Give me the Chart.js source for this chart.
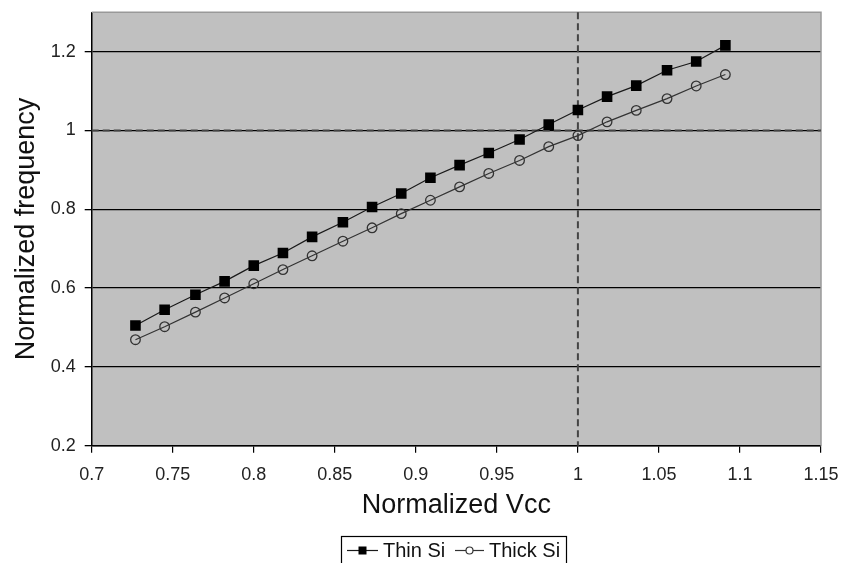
<!DOCTYPE html>
<html>
<head>
<meta charset="utf-8">
<script src="https://cdn.jsdelivr.net/npm/chart.js@4.4.0/dist/chart.umd.min.js"></script>
<style>
  html, body { margin: 0; padding: 0; background: #fff; }
  #wrap { width: 843px; height: 563px; }
</style>
</head>
<body>
<div id="wrap"><canvas id="chart" width="843" height="563"></canvas></div>
<script>
// Data
const vcc = [0.727, 0.745, 0.764, 0.782, 0.800, 0.818, 0.836, 0.855, 0.873, 0.891, 0.909,
             0.927, 0.945, 0.964, 0.982, 1.000, 1.018, 1.036, 1.055, 1.073, 1.091];
const thinSi = [0.505, 0.545, 0.583, 0.617, 0.657, 0.689, 0.730, 0.767, 0.806, 0.840, 0.880,
                0.912, 0.943, 0.977, 1.015, 1.052, 1.086, 1.114, 1.153, 1.175, 1.216];
const thickSi = [0.469, 0.502, 0.539, 0.575, 0.611, 0.647, 0.682, 0.719, 0.753, 0.789, 0.823,
                 0.857, 0.891, 0.924, 0.959, 0.987, 1.022, 1.051, 1.081, 1.113, 1.142];
const xTicks = [0.7, 0.75, 0.8, 0.85, 0.9, 0.95, 1, 1.05, 1.1, 1.15];
const yTicks = [0.2, 0.4, 0.6, 0.8, 1, 1.2];
const refX = 1;  // dashed reference lines
const refY = 1;

const FONT = "'Liberation Sans', Arial, sans-serif";

function toPoints(xs, ys) {
    return xs.map((x, i) => ({ x: x, y: ys[i] }));
}

function fmt(v) {
    return String(Number(v.toFixed(2)));
}

// gray plot area, border and dashed reference lines
const plotArea = {
    id: 'plotArea',
    beforeDraw(chart) {
        const { ctx, chartArea: a } = chart;
        ctx.save();
        ctx.fillStyle = '#c0c0c0';
        ctx.fillRect(a.left, a.top, a.right - a.left, a.bottom - a.top);
        ctx.restore();
    },
    beforeDatasetsDraw(chart) {
        const { ctx, chartArea: a, scales } = chart;
        const px = scales.x.getPixelForValue(refX);
        const py = scales.y.getPixelForValue(refY);
        ctx.save();
        ctx.strokeStyle = '#999';
        ctx.lineWidth = 1.5;
        ctx.beginPath();
        ctx.moveTo(a.left, a.top);
        ctx.lineTo(a.right, a.top);
        ctx.lineTo(a.right, a.bottom);
        ctx.stroke();
        ctx.strokeStyle = '#444';
        ctx.lineWidth = 2;
        ctx.setLineDash([7, 4]);
        ctx.beginPath();
        ctx.moveTo(a.left, py);
        ctx.lineTo(a.right, py);
        ctx.moveTo(px, a.top);
        ctx.lineTo(px, a.bottom);
        ctx.stroke();
        ctx.restore();
    }
};

// boxed legend under the axis title
const boxLegend = {
    id: 'boxLegend',
    afterDraw(chart) {
        const ctx = chart.ctx;
        const ds = chart.data.datasets;
        ctx.save();
        ctx.strokeStyle = '#000';
        ctx.lineWidth = 1.2;
        ctx.strokeRect(341.5, 536.5, 225, 40);
        ctx.font = '20px ' + FONT;
        ctx.textBaseline = 'alphabetic';
        ctx.fillStyle = '#111';
        const items = [
            { x0: 347, x1: 378, text: 'Thin Si', tx: 383 },
            { x0: 455, x1: 484, text: 'Thick Si', tx: 489 }
        ];
        const y = 550.5;
        items.forEach((it, i) => {
            const d = ds[i];
            ctx.strokeStyle = d.borderColor;
            ctx.lineWidth = 1.2;
            ctx.beginPath();
            ctx.moveTo(it.x0, y);
            ctx.lineTo(it.x1, y);
            ctx.stroke();
            const cx = (it.x0 + it.x1) / 2;
            if (d.pointStyle === 'rect') {
                ctx.fillStyle = d.pointBackgroundColor;
                ctx.fillRect(cx - 4, y - 4, 8, 8);
            } else {
                ctx.fillStyle = '#fff';
                ctx.strokeStyle = d.pointBorderColor;
                ctx.beginPath();
                ctx.arc(cx, y, 3.5, 0, Math.PI * 2);
                ctx.fill();
                ctx.stroke();
            }
            ctx.fillStyle = '#111';
            ctx.fillText(it.text, it.tx, 557);
        });
        ctx.restore();
    }
};

const ctx = document.getElementById('chart').getContext('2d');
const chart = new Chart(ctx, {
    type: 'line',
    data: {
        datasets: [
            {
                label: 'Thin Si',
                data: toPoints(vcc, thinSi),
                borderColor: '#1a1a1a',
                borderWidth: 1.2,
                pointStyle: 'rect',
                pointRadius: 7.5,
                pointBackgroundColor: '#000',
                pointBorderColor: '#000',
                pointBorderWidth: 0,
                tension: 0
            },
            {
                label: 'Thick Si',
                data: toPoints(vcc, thickSi),
                borderColor: '#333',
                borderWidth: 1.2,
                pointStyle: 'circle',
                pointRadius: 4.8,
                pointBackgroundColor: 'rgba(0,0,0,0)',
                pointBorderColor: '#333',
                pointBorderWidth: 1.3,
                tension: 0
            }
        ]
    },
    options: {
        responsive: false,
        animation: false,
        layout: { padding: { top: 12.3, right: 22, left: 0, bottom: 0 } },
        plugins: {
            legend: { display: false },
            tooltip: { enabled: false }
        },
        scales: {
            x: {
                type: 'linear',
                min: 0.7,
                max: 1.15,
                afterBuildTicks: s => { s.ticks = xTicks.map(v => ({ value: v })); },
                afterFit: s => { s.height = 117.3; s.paddingLeft = 0; s.paddingRight = 0; },
                grid: { drawOnChartArea: false, drawTicks: true, tickLength: 7, color: '#000', lineWidth: 1.2 },
                border: { color: '#000', width: 1.5 },
                ticks: {
                    callback: v => fmt(v),
                    font: { family: FONT, size: 18 },
                    color: '#222',
                    padding: 12,
                    maxRotation: 0,
                    autoSkip: false
                },
                title: {
                    display: true,
                    text: 'Normalized Vcc',
                    font: { family: FONT, size: 27 },
                    color: '#111',
                    padding: { top: 0, bottom: 41 }
                }
            },
            y: {
                type: 'linear',
                min: 0.2,
                max: 1.3,
                afterBuildTicks: s => { s.ticks = yTicks.map(v => ({ value: v })); },
                afterFit: s => { s.width = 91.7; s.paddingTop = 0; s.paddingBottom = 0; },
                grid: { drawOnChartArea: true, drawTicks: true, tickLength: 7, color: '#000', lineWidth: 1.3 },
                border: { color: '#000', width: 1.5 },
                ticks: {
                    callback: v => fmt(v),
                    font: { family: FONT, size: 18 },
                    color: '#222',
                    padding: 9,
                    autoSkip: false
                },
                title: {
                    display: true,
                    text: 'Normalized frequency',
                    font: { family: FONT, size: 27 },
                    color: '#111',
                    padding: { top: 10, bottom: 0 }
                }
            }
        }
    },
    plugins: [plotArea, boxLegend]
});
</script>
</body>
</html>
